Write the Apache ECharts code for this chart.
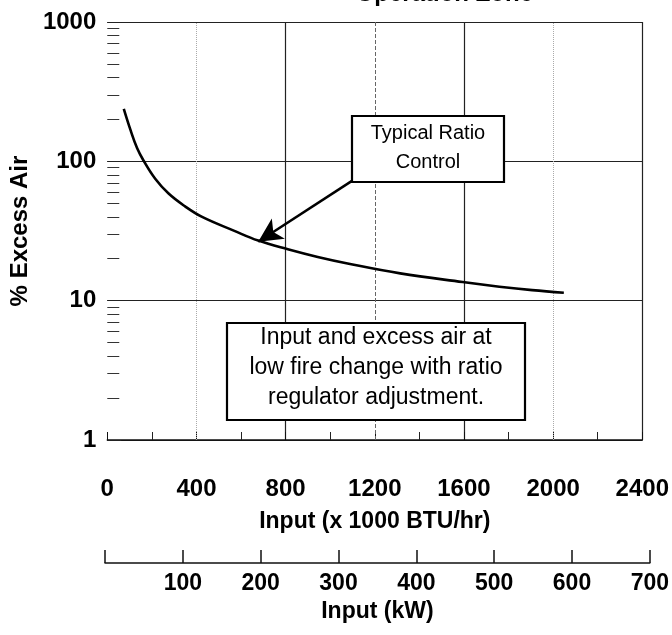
<!DOCTYPE html>
<html>
<head>
<meta charset="utf-8">
<script src="https://cdn.jsdelivr.net/npm/echarts@6/dist/echarts.min.js"></script>
<style>html,body{margin:0;padding:0;background:#fff;}#c{width:672px;height:635px;}</style>
</head>
<body>
<div id="c"></div>
<script>
// Curve: input (x1000 BTU/hr) vs % excess air
var inputBTU = [74, 104, 134, 163, 215, 275, 349, 423, 570, 677, 810, 944, 1078, 1314, 1594, 1759, 1906, 2048];
var excessAir = [238, 168, 124, 101, 75, 58.7, 47.5, 40.1, 31.7, 27.0, 23.4, 20.6, 18.5, 15.7, 13.6, 12.6, 11.9, 11.4];
var yTickLabels = ['1', '10', '100', '1000'];
var yMinorTicks = [2, 3, 4, 5, 6, 7, 8, 9, 20, 30, 40, 50, 60, 70, 80, 90, 200, 300, 400, 500, 600, 700, 800, 900];
var dashedGridX = [1200];
var dottedGridX = [400, 2000];
var arrowFrom = [1101, 73];
var arrowTo = [677, 26.5];
var box1Lines = ['Typical Ratio', 'Control'];
var box2Lines = ['Input and excess air at', 'low fire change with ratio', 'regulator adjustment.'];
var titleText = 'Operation Zone';

var FONT = '"Liberation Sans", Arial, Helvetica, sans-serif';
var chart = echarts.init(document.getElementById('c'), null, {renderer: 'canvas'});

var curve = inputBTU.map(function (x, i) { return [x, excessAir[i]]; });

var gridMarks = dashedGridX.map(function (v) {
  return {xAxis: v, lineStyle: {type: 'dashed', color: '#666', width: 1}};
}).concat(dottedGridX.map(function (v) {
  return {xAxis: v, lineStyle: {type: 'dotted', color: '#aaa', width: 1}};
}));

var option = {
  animation: false,
  backgroundColor: '#fff',
  grid: [
    {left: 105, right: 26, top: 22, bottom: 195},
    {left: 105, right: 20, top: 562, height: 1}
  ],
  xAxis: [
    {
      type: 'value', gridIndex: 0, min: 0, max: 2400, interval: 400,
      name: 'Input (x 1000 BTU/hr)', nameLocation: 'middle', nameGap: 70,
      nameTextStyle: {fontFamily: FONT, fontWeight: 'bold', fontSize: 23, color: '#000'},
      axisLine: {show: true, lineStyle: {color: '#111', width: 1.5}},
      axisTick: {show: true, inside: true, length: 8, lineStyle: {color: '#111'}},
      minorTick: {show: true, splitNumber: 2, length: 8, lineStyle: {color: '#222'}},
      axisLabel: {margin: 37, fontFamily: FONT, fontWeight: 'bold', fontSize: 24, color: '#000',
        formatter: function (v) { return String(v); }},
      splitLine: {show: true, lineStyle: {color: ['rgba(0,0,0,0)', 'rgba(0,0,0,0)', '#222', 'rgba(0,0,0,0)', '#222', 'rgba(0,0,0,0)', '#222'], width: 1.2}}
    },
    {
      type: 'value', gridIndex: 1, min: 0, max: 700, interval: 100,
      name: 'Input (kW)', nameLocation: 'middle', nameGap: 37,
      nameTextStyle: {fontFamily: FONT, fontWeight: 'bold', fontSize: 23, color: '#000'},
      axisLine: {show: true, onZero: false, lineStyle: {color: '#111', width: 1.5}},
      axisTick: {show: true, inside: true, length: 13, lineStyle: {color: '#111', width: 1.5}},
      axisLabel: {margin: 9, fontFamily: FONT, fontWeight: 'bold', fontSize: 23, color: '#000',
        formatter: function (v) { return v === 0 ? '' : String(v); }},
      splitLine: {show: false}
    }
  ],
  yAxis: [
    {
      type: 'log', gridIndex: 0, logBase: 10, min: 1, max: 1000,
      name: '% Excess Air', nameLocation: 'middle', nameRotate: 90, nameGap: 47,
      nameTextStyle: {fontFamily: FONT, fontWeight: 'bold', fontSize: 24, color: '#000'},
      axisLine: {show: false},
      axisTick: {show: true, inside: true, length: 14, lineStyle: {color: '#222'}},
      minorTick: {show: false},
      axisLabel: {margin: 11, fontFamily: FONT, fontWeight: 'bold', fontSize: 24, color: '#000',
        formatter: function (v) {
          var i = Math.round(Math.log10(v));
          return yTickLabels[i] !== undefined ? yTickLabels[i] : '';
        }},
      splitLine: {show: true, lineStyle: {color: '#222', width: 1.2}}
    },
    {type: 'value', gridIndex: 1, show: false, min: 0, max: 1},
    {
      type: 'log', gridIndex: 0, logBase: 10, min: 1, max: 1000, position: 'left',
      axisLine: {show: false},
      axisTick: {show: true, inside: true, length: 12, customValues: yMinorTicks, lineStyle: {color: '#333'}},
      axisLabel: {show: false},
      splitLine: {show: false}
    }
  ],
  series: [
    {
      type: 'line', xAxisIndex: 0, yAxisIndex: 0, data: curve,
      smooth: 0.4, showSymbol: false, silent: true,
      lineStyle: {color: '#000', width: 2.6},
      markLine: {
        silent: true, symbol: ['none', 'arrow'], symbolSize: [18, 24],
        label: {show: false},
        lineStyle: {color: '#000', width: 2.5, type: 'solid'},
        data: [[{coord: arrowFrom}, {coord: arrowTo}]]
      },
      z: 5
    },
    {
      type: 'line', xAxisIndex: 0, yAxisIndex: 0, data: curve,
      showSymbol: false, silent: true, lineStyle: {opacity: 0},
      markLine: {
        silent: true, symbol: 'none', label: {show: false},
        data: gridMarks
      },
      z: 1
    }
  ],
  graphic: [
    {type: 'text', x: 533, y: 6, z: 10, style: {text: titleText, align: 'right', verticalAlign: 'bottom',
      font: 'bold 24px ' + FONT, fill: '#000'}},
    {type: 'rect', z: 10, shape: {x: 352, y: 116, width: 152, height: 66},
      style: {fill: '#fff', stroke: '#000', lineWidth: 2.2}},
    {type: 'text', z: 11, x: 428, y: 148, style: {text: box1Lines.join('\n'), align: 'center', verticalAlign: 'middle',
      font: '20px ' + FONT, lineHeight: 29, fill: '#000'}},
    {type: 'rect', z: 10, shape: {x: 227, y: 323, width: 298, height: 97},
      style: {fill: '#fff', stroke: '#000', lineWidth: 2.2}},
    {type: 'text', z: 11, x: 376, y: 368, style: {text: box2Lines.join('\n'), align: 'center', verticalAlign: 'middle',
      font: '23px ' + FONT, lineHeight: 30, fill: '#000'}}
  ]
};
chart.setOption(option);
</script>
</body>
</html>
